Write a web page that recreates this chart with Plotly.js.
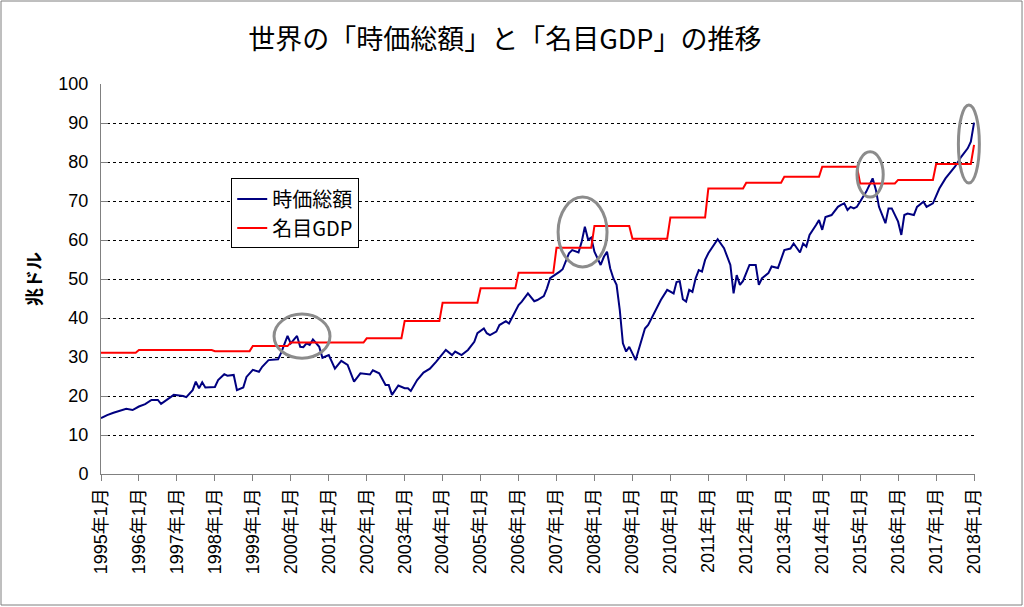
<!DOCTYPE html>
<html>
<head>
<meta charset="utf-8">
<script src="https://cdn.plot.ly/plotly-3.0.1.min.js"></script>
<style>html,body{margin:0;padding:0;background:#fff}#chart{width:1024px;height:607px}</style>
</head>
<body>
<div id="chart"></div>
<script>
// 時価総額 (兆ドル) — monthly readings
const mcDates = [
"1995-01","1995-03","1995-05","1995-08","1995-09","1995-11","1996-01","1996-03","1996-05","1996-07",
"1996-08","1996-11","1996-12","1997-03","1997-04","1997-06","1997-07","1997-08","1997-09","1997-10",
"1998-01","1998-02","1998-04","1998-05","1998-07","1998-08","1998-10","1998-11","1999-01","1999-03",
"1999-04","1999-06","1999-09","1999-10","1999-12","2000-01","2000-03","2000-04","2000-05","2000-06",
"2000-07","2000-08","2000-10","2000-11","2001-01","2001-03","2001-05","2001-07","2001-09","2001-11",
"2002-02","2002-03","2002-05","2002-07","2002-08","2002-09","2002-11","2003-01","2003-02","2003-03",
"2003-05","2003-07","2003-09","2003-11","2004-01","2004-02","2004-04","2004-05","2004-07","2004-09",
"2004-11","2004-12","2005-02","2005-03","2005-04","2005-06","2005-07","2005-09","2005-10","2005-11",
"2006-01","2006-02","2006-04","2006-06","2006-07","2006-09","2006-10","2006-11","2007-01","2007-02",
"2007-03","2007-05","2007-06","2007-08","2007-09","2007-10","2007-11","2007-12","2008-01","2008-02",
"2008-03","2008-04","2008-05","2008-06","2008-07","2008-08","2008-09","2008-10","2008-11","2008-12",
"2009-02","2009-03","2009-05","2009-06","2009-08","2009-10","2009-12","2010-01","2010-02","2010-03",
"2010-04","2010-05","2010-06","2010-07","2010-08","2010-09","2010-10","2010-11","2010-12","2011-01",
"2011-04","2011-06","2011-08","2011-09","2011-10","2011-11","2011-12","2012-02","2012-04","2012-05",
"2012-06","2012-08","2012-09","2012-11","2012-12","2013-01","2013-03","2013-04","2013-06","2013-07",
"2013-08","2013-09","2013-11","2013-12","2014-01","2014-02","2014-04","2014-06","2014-07","2014-08",
"2014-09","2014-10","2014-11","2014-12","2015-03","2015-05","2015-06","2015-07","2015-09","2015-10",
"2015-11","2016-01","2016-02","2016-03","2016-04","2016-06","2016-07","2016-09","2016-10","2016-12",
"2017-02","2017-04","2017-07","2017-09","2017-11","2017-12","2018-01"
];
const mcValues = [
14.3,15.1,15.7,16.5,16.7,16.4,17.3,17.9,19.0,19.0,
18.0,19.7,20.3,20.0,19.7,21.5,23.7,22.0,23.5,22.2,
22.3,24.1,25.6,25.2,25.4,21.5,22.2,24.9,26.7,26.2,
27.5,29.2,29.4,31.1,35.4,33.5,35.4,32.6,32.5,33.5,
33.1,34.5,32.6,29.8,30.5,27.0,29.0,28.0,23.7,25.8,
25.5,26.6,25.8,22.8,22.8,20.3,22.7,22.0,22.0,21.3,
24.1,26.0,27.0,28.8,30.9,31.8,30.5,31.4,30.5,31.8,
33.9,36.1,37.3,36.1,35.6,36.5,38.2,39.2,38.6,40.2,
43.3,44.2,46.3,44.3,44.6,45.6,47.6,50.2,51.2,51.9,
52.5,56.6,57.4,56.8,59.6,63.4,60.1,60.6,57.0,55.3,
53.6,55.7,57.0,52.7,50.2,48.5,42.0,33.5,31.4,32.6,
29.2,31.8,37.3,38.2,41.6,44.6,47.2,46.7,46.3,49.2,
49.4,44.8,44.2,47.2,46.7,50.2,52.3,51.9,54.9,56.6,
60.2,57.9,53.6,46.3,51.0,48.5,49.5,53.6,53.6,48.5,
50.2,51.5,53.2,52.8,55.3,57.4,57.8,59.1,56.8,59.1,
58.3,61.3,63.8,65.1,62.6,65.9,66.4,68.5,69.0,69.4,
67.7,68.5,68.1,68.5,72.4,75.8,72.9,68.5,64.3,68.1,
68.1,64.7,61.3,66.4,66.8,66.4,68.5,69.8,68.5,69.4,
73.2,75.8,78.8,81.4,83.5,85.2,90.1
];

// 名目GDP (兆ドル) — annual level
const gdpYears = [1995,1996,1997,1998,1999,2000,2001,2002,2003,2004,2005,2006,2007,2008,2009,2010,2011,2012,2013,2014,2015,2016,2017,2018];
const gdpValues = [31.1,31.8,31.8,31.5,32.8,33.7,33.7,34.8,39.2,43.9,47.6,51.6,58.0,63.6,60.3,65.8,73.2,74.7,76.2,78.8,74.5,75.4,79.5,84.4];

const tickYears = [1995,1996,1997,1998,1999,2000,2001,2002,2003,2004,2005,2006,2007,2008,2009,2010,2011,2012,2013,2014,2015,2016,2017,2018];
const tickLabels = tickYears.map(y => y + "年1月");

// monthly step series for GDP (value held through the year)
const gdpX = [], gdpY = [];
gdpYears.forEach((y, i) => {
  gdpX.push(y + "-01"); gdpY.push(gdpValues[i]);
  if (y < 2018) { gdpX.push(y + "-12"); gdpY.push(gdpValues[i]); }
});

const FONT = "'Liberation Sans', Arial, 'Noto Sans CJK JP', sans-serif";
const JFONT = "'Noto Sans CJK JP', 'Liberation Sans', sans-serif";

const traces = [
  {x: mcDates, y: mcValues, name: "時価総額", type: "scatter", mode: "lines",
   line: {color: "#000080", width: 2}},
  {x: gdpX, y: gdpY, name: "名目GDP", type: "scatter", mode: "lines",
   line: {color: "#ff0000", width: 2}}
];

function ell(x0, x1, y0, y1) {
  return {type: "circle", xref: "paper", yref: "paper", x0: x0, x1: x1, y0: y0, y1: y1,
          line: {color: "#8c8c8c", width: 3}, layer: "above"};
}

const layout = {
  width: 1024, height: 607,
  margin: {l: 101, r: 49, t: 84, b: 133},
  paper_bgcolor: "#fff", plot_bgcolor: "#fff",
  font: {family: FONT, color: "#000", size: 16},
  title: {text: "世界の「時価総額」と「名目GDP」の推移", font: {family: JFONT, size: 27, color: "#000"},
          x: 0.493, xanchor: "center", y: 0.935, yanchor: "middle", xref: "container", yref: "container"},
  showlegend: true,
  legend: {x: 0.149, y: 0.758, xanchor: "left", yanchor: "top", bordercolor: "#000", borderwidth: 1,
           bgcolor: "#fff", font: {family: JFONT, size: 20, color: "#000"}, tracegroupgap: 0},
  xaxis: {
    type: "date", range: ["1995-01-01", "2018-01-10"],
    tickvals: tickYears.map(y => y + "-01-01"), ticktext: tickLabels,
    tickangle: -90, ticks: "outside", ticklen: 6, tickcolor: "#808080",
    showline: true, linecolor: "#808080", linewidth: 1, showgrid: false, zeroline: false,
    tickfont: {family: FONT, size: 18, color: "#000"}
  },
  yaxis: {
    range: [0, 100], dtick: 10, tick0: 0,
    ticks: "inside", ticklen: 7, tickcolor: "#808080",
    showline: true, linecolor: "#808080", linewidth: 1,
    showgrid: true, gridcolor: "#000", gridwidth: 1, griddash: "dot", zeroline: false,
    tickfont: {family: FONT, size: 18, color: "#000"}, ticklabelstandoff: 8,
    title: {text: "兆ドル", font: {family: JFONT, size: 18, color: "#000", weight: "bold"}, standoff: 12}
  },
  shapes: [
    ell(0.198, 0.262, 0.297, 0.410),
    ell(0.523, 0.579, 0.531, 0.710),
    ell(0.865, 0.895, 0.710, 0.826),
    ell(0.981, 1.005, 0.746, 0.946),
    {type: "rect", xref: "paper", yref: "paper", x0: -0.1144, x1: 1.0538, y0: -0.3359, y1: 1.2128,
     line: {color: "#7f7f7f", width: 1}, layer: "below"}
  ]
};

Plotly.newPlot("chart", traces, layout, {displayModeBar: false, staticPlot: true});
</script>
</body>
</html>
